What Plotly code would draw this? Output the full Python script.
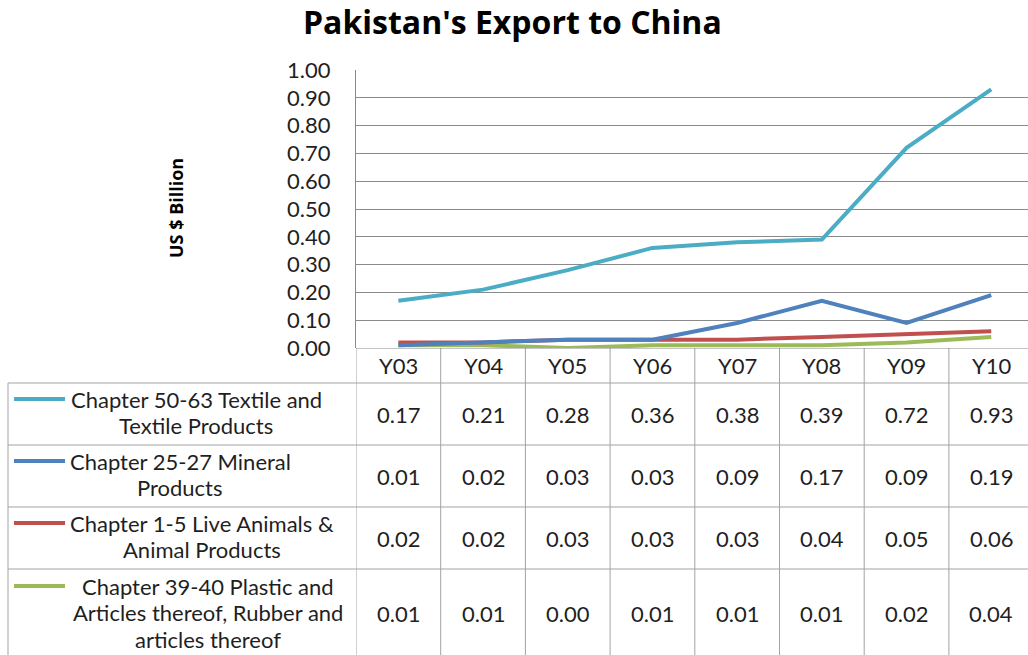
import plotly.graph_objects as go

# ---- data -------------------------------------------------------------
years = ["Y03", "Y04", "Y05", "Y06", "Y07", "Y08", "Y09", "Y10"]

series_names = [
    ["Chapter 50-63 Textile and", "Textile Products"],
    ["Chapter 25-27 Mineral", "Products"],
    ["Chapter 1-5 Live Animals &", "Animal Products"],
    ["Chapter 39-40 Plastic and", "Articles thereof, Rubber and", "articles thereof"],
]
textile = [0.17, 0.21, 0.28, 0.36, 0.38, 0.39, 0.72, 0.93]
mineral = [0.01, 0.02, 0.03, 0.03, 0.09, 0.17, 0.09, 0.19]
animals = [0.02, 0.02, 0.03, 0.03, 0.03, 0.04, 0.05, 0.06]
plastic = [0.01, 0.01, 0.00, 0.01, 0.01, 0.01, 0.02, 0.04]
series_values = [textile, mineral, animals, plastic]
series_colors = ["#4BACC6", "#4F81BD", "#C0504D", "#9BBB59"]

# ---- layout constants (pixels) ---------------------------------------
W, H = 1028, 655
PLOT_LEFT, PLOT_TOP, PLOT_BOTTOM = 356, 70, 348
COL_W = 84.7
TABLE_LEFT = 8
# table row edges, measured downward from the chart's baseline
row_edges = [0, 35, 97, 159, 221, 309]
row_first_line = [51, 113, 175, 238]
LINE_STEP = 26.8
label_centers = [196, 180, 202, 208]

FONT = "Lato, 'Open Sans', sans-serif"
BOLD_FONT = "'Open Sans', Lato, sans-serif"
BODY = 22
TXT = "#1f1f1f"
GRID = "#8a8a8a"
TBL = "#a3a3a3"

x_idx = list(range(len(years)))
x_right = len(years) - 0.5 - (PLOT_LEFT + COL_W * len(years) - W) / COL_W

fig = go.Figure()

# lines (drawn back to front so textile sits on top)
for vals, col in reversed(list(zip(series_values, series_colors))):
    fig.add_trace(go.Scatter(
        x=x_idx, y=vals, mode="lines",
        line=dict(color=col, width=4),
        hoverinfo="skip", showlegend=False,
    ))

shapes = []
annotations = []

# header row category labels and column separators
for i, yr in enumerate(years):
    annotations.append(dict(
        x=i, y=(row_edges[0] + row_edges[1]) / 2, xref="x", yref="y2",
        xanchor="center", yanchor="middle",
        text=yr, showarrow=False, font=dict(family=FONT, size=BODY, color=TXT),
    ))
for k in range(len(years) + 1):
    shapes.append(dict(
        type="line", xref="x", yref="y2",
        x0=k - 0.5, x1=k - 0.5, y0=row_edges[0], y1=row_edges[-1],
        line=dict(color=TBL, width=1),
    ))

# horizontal table rules
shapes.append(dict(type="line", xref="paper", yref="y2",
                   x0=PLOT_LEFT / W, x1=1, y0=0, y1=0,
                   line=dict(color=GRID, width=1)))
for e in row_edges[1:-1]:
    shapes.append(dict(type="line", xref="paper", yref="y2",
                       x0=TABLE_LEFT / W, x1=1, y0=e, y1=e,
                       line=dict(color=TBL, width=1)))
shapes.append(dict(type="line", xref="paper", yref="y2",
                   x0=TABLE_LEFT / W, x1=TABLE_LEFT / W,
                   y0=row_edges[1], y1=row_edges[-1],
                   line=dict(color=TBL, width=1)))

# table body: legend keys, series names and values
for r, (name_lines, vals, col) in enumerate(zip(series_names, series_values, series_colors)):
    y_mid = (row_edges[r + 1] + row_edges[r + 2]) / 2
    shapes.append(dict(type="line", xref="paper", yref="y2",
                       x0=14 / W, x1=65 / W,
                       y0=row_first_line[r], y1=row_first_line[r],
                       line=dict(color=col, width=4)))
    for j, line_text in enumerate(name_lines):
        annotations.append(dict(
            x=label_centers[r] / W, y=row_first_line[r] + j * LINE_STEP,
            xref="paper", yref="y2", xanchor="center", yanchor="middle",
            text=line_text, showarrow=False,
            font=dict(family=FONT, size=BODY, color=TXT),
        ))
    for i, v in enumerate(vals):
        annotations.append(dict(
            x=i, y=y_mid, xref="x", yref="y2",
            xanchor="center", yanchor="middle",
            text=f"{v:.2f}", showarrow=False,
            font=dict(family=FONT, size=BODY, color=TXT),
        ))

# title and axis title
annotations.append(dict(
    x=512 / W, y=(H - 22) / H, xref="paper", yref="paper",
    xanchor="center", yanchor="middle",
    text="<b>Pakistan's Export to China</b>", showarrow=False,
    font=dict(family=BOLD_FONT, size=32, color="#000000"),
))
annotations.append(dict(
    x=176 / W, y=(H - 208) / H, xref="paper", yref="paper",
    xanchor="center", yanchor="middle",
    text="<b>US $ Billion</b>", showarrow=False, textangle=-90,
    font=dict(family=BOLD_FONT, size=18, color="#000000"),
))

fig.update_layout(
    width=W, height=H, autosize=False,
    margin=dict(l=0, r=0, t=0, b=0, pad=0, autoexpand=False),
    paper_bgcolor="white", plot_bgcolor="white",
    xaxis=dict(
        domain=[PLOT_LEFT / W, 1], range=[-0.5, x_right],
        showticklabels=False, showgrid=False, zeroline=False,
        showline=False, fixedrange=True, automargin=False,
    ),
    yaxis=dict(
        domain=[(H - PLOT_BOTTOM) / H, (H - PLOT_TOP) / H],
        range=[0, 1], dtick=0.1, tickformat=".2f",
        showgrid=True, gridcolor=GRID, gridwidth=1,
        zeroline=False, showline=True, linecolor=GRID, linewidth=1,
        ticks="", ticklabelstandoff=20, automargin=False,
        tickfont=dict(family=FONT, size=BODY, color=TXT),
    ),
    yaxis2=dict(
        domain=[0, (H - PLOT_BOTTOM) / H],
        range=[H - PLOT_BOTTOM, 0], anchor="x",
        visible=False, fixedrange=True, automargin=False,
    ),
    shapes=shapes,
    annotations=annotations,
)

fig.write_html("out.html")
